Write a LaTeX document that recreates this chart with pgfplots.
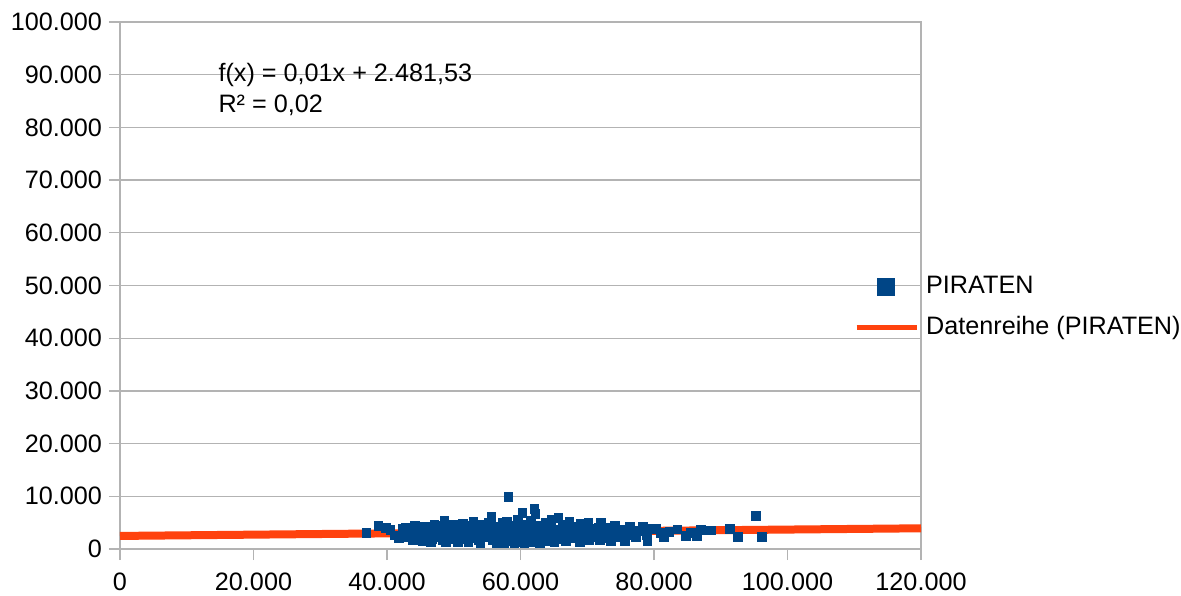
\documentclass[border=0pt]{standalone}
\usepackage{pgfplots}
\usepackage{pgfplotstable}
\pgfplotsset{compat=1.18}
\usepackage{fontspec}
\setmainfont{Liberation Sans}
\definecolor{ser}{HTML}{004586}
\definecolor{trend}{HTML}{FF420E}
\definecolor{gridc}{HTML}{B3B3B3}

\pgfplotstableread{
x y
36900 3040
38700 4370
39800 4000
40500 3610
41200 2600
41800 2100
42300 3900
42800 4100
43100 2300
43500 3300
43900 1700
44200 4500
44600 2800
45000 3700
45300 1500
45700 4300
46000 2500
46400 3100
46800 1900
47100 4700
47400 2200
47800 3500
48100 4400
48400 1600
48600 5320
48900 2900
49200 3800
49500 2100
49900 4600
50200 1800
50500 3300
50800 4200
51100 2600
51400 4800
51700 1900
52000 3600
52300 2400
52600 4500
52950 5130
53200 2000
53500 3900
53800 1700
54100 4600
54400 2800
54700 3400
55000 2200
55300 5000
55650 6080
55900 1600
56200 4200
56500 2700
56800 3600
57100 1900
57400 4900
57700 2500
58000 5200
58200 9880
58400 3300
58700 1500
59000 4400
59300 2300
59600 5600
59900 1400
60100 3800
60300 6840
60500 2000
60800 4700
61000 1700
61300 3100
61600 5300
61900 2600
62100 7600
62250 6650
62500 1600
62800 4400
63100 3400
63400 2100
63700 4900
64000 2800
64300 1900
64650 5510
65000 3600
65300 2400
65700 5890
66000 1900
66300 4600
66600 3000
67000 2300
67350 5130
67700 3700
68000 2000
68400 4300
68700 2600
69000 4750
69400 1900
69800 3400
70200 4940
70500 2500
70900 3900
71300 2200
71700 4100
72000 4940
72400 2700
72750 3990
73200 2100
73700 3500
74100 4400
74850 2280
75300 3700
75900 2600
76350 4180
77250 2280
77800 3400
78300 4180
78900 2700
79500 3900
80250 3800
81450 2280
82300 3300
83500 3700
84750 2470
86400 2470
87000 3610
88500 3500
91350 3800
92550 2280
95250 6270
96150 2280
43300 2900
44000 3600
44800 2000
45500 2600
46200 4000
46600 1400
47000 3000
47600 2700
48200 3200
48800 1300
49400 2700
50000 2400
50600 1400
51000 3800
51600 3000
52200 1300
52800 3000
53400 2500
54000 1200
54600 4100
55200 3100
55800 2600
56400 1200
57000 3300
57600 1200
58100 3900
58600 2700
59100 1100
59500 3200
60000 2600
60600 1200
61100 4200
61700 1300
62300 3500
62900 1200
63300 2700
63900 1500
64500 3100
65100 1300
65600 2900
66100 3400
66800 1500
67400 2700
68200 3100
68900 1400
69600 2900
70300 1600
71000 3000
71900 1700
72600 3200
73500 1500
74400 2900
75600 1500
76700 2900
79000 1500
81000 3000
85500 3100
}\piraten

\begin{document}
\begin{tikzpicture}
\useasboundingbox (-60pt,-23pt) rectangle (530.5pt,274.5pt);
\begin{axis}[
  at={(0pt,0pt)}, anchor=south west,
  scale only axis, width=400.5pt, height=263.5pt,
  xmin=0, xmax=120000, ymin=0, ymax=100000,
  scaled ticks=false,
  xtick={0,20000,40000,60000,80000,100000,120000},
  xticklabels={0,20.000,40.000,60.000,80.000,100.000,120.000},
  ytick={0,10000,20000,30000,40000,50000,60000,70000,80000,90000,100000},
  yticklabels={0,10.000,20.000,30.000,40.000,50.000,60.000,70.000,80.000,90.000,100.000},
  ymajorgrids,
  grid style={gridc, line width=0.6pt},
  axis line style={gridc, line width=0.6pt},
  tick style={gridc, line width=0.6pt},
  tick align=outside, tick pos=left, major tick length=5.5pt,
  tick label style={font=\fontsize{12.6}{14}\selectfont, black},
  xticklabel style={yshift=-3pt},
  legend cell align=left,
  legend style={draw=none, fill=none, at={(0.9158,0.522)}, anchor=north west,
    font=\fontsize{12.6}{14}\selectfont, inner sep=0pt,
    nodes={inner sep=1pt},
    row sep=8pt,
    /tikz/every odd column/.append style={column sep=2.5pt}},
]
\addplot[only marks, mark=square*, mark size=2.15pt, ser, mark options={draw=ser, fill=ser},
  legend image code/.code={\fill[ser] (10.5pt,-4.25pt) rectangle (19pt,4.25pt);}]
  table[x=x, y=y] {\piraten};
\addlegendentry{PIRATEN}
\addplot[trend, line width=4pt,
  legend image code/.code={\draw[trend, line width=2.6pt] (0pt,0pt) -- (30pt,0pt);}]
  coordinates {(0,2481.53) (120000,3930)};
\addlegendentry{Datenreihe (PIRATEN)}
\node[anchor=north west, align=left, inner sep=0pt, font=\fontsize{12.6}{15.5}\selectfont]
  at (axis cs:14700,92200) {f(x) = 0,01x + 2.481,53\\R² = 0,02};
\end{axis}
\end{tikzpicture}
\end{document}
